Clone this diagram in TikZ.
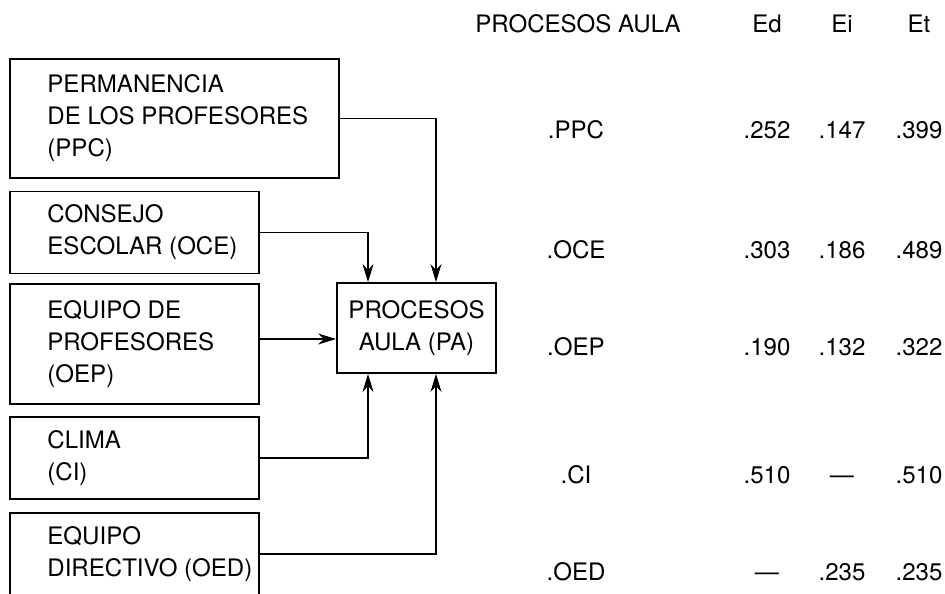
\documentclass[tikz,border=0pt]{standalone}
\usepackage{fontspec}
\setmainfont{TeX Gyre Heros}
\usetikzlibrary{arrows.meta, positioning}
\newcommand{\diagfont}{\fontsize{13.7}{18.2}\selectfont}
\tikzset{
    % Box styles
    factor/.style={
        rectangle,
        draw=black,
        line width=1.1pt,
        minimum width=4.98cm,
        minimum height=1.64cm,
        inner sep=0pt
    },
    factortext/.style={
        align=left,
        inner sep=0pt,
        font=\diagfont
    },
    outcome/.style={
        rectangle,
        draw=black,
        line width=1.1pt,
        minimum width=3.18cm,
        minimum height=1.8cm,
        align=center,
        font=\diagfont
    },
    % Table cells
    cell/.style={
        anchor=base,
        inner sep=0pt,
        font=\diagfont
    },
    % Arrow style
    arrow/.style={
        -{Stealth[length=0.36cm, width=0.22cm]},
        line width=0.8pt,
        draw=black
    }
}
\begin{document}
\begin{tikzpicture}[x=0.02cm, y=-0.02cm]
    \useasboundingbox (0,0) rectangle (945,593);

    % Factors
    \node[factor, minimum width=6.58cm, minimum height=2.38cm] (ppc) at (174.5,118.5) {};
    \node[factortext, right=0.76cm of ppc.west] (ppc-t) {PERMANENCIA\\DE LOS PROFESORES\\(PPC)};
    \node[factor] (oce) at (134.5,232.5) {};
    \node[factortext, right=0.76cm of oce.west] (oce-t) {CONSEJO\\ESCOLAR (OCE)};
    \node[factor, minimum height=2.4cm] (oep) at (134.5,344) {};
    \node[factortext, right=0.76cm of oep.west] (oep-t) {EQUIPO DE\\PROFESORES\\(OEP)};
    \node[factor] (ci) at (134.5,458) {};
    \node[factortext, right=0.76cm of ci.west] (ci-t) {CLIMA\\(CI)};
    \node[factor] (oed) at (134.5,554) {};
    \node[factortext, right=0.76cm of oed.west] (oed-t) {EQUIPO\\DIRECTIVO (OED)};

    % Outcome
    \node[outcome] (pa) at (416.5,328) {PROCESOS\\AULA (PA)};

    % Paths
    \draw[arrow] (ppc.east) -| ([xshift=0.39cm]pa.north);
    \draw[arrow] (oce.east) -| ([xshift=-0.97cm]pa.north);
    \draw[arrow] ([yshift=0.1cm]oep.east) -- ([yshift=0.1cm]oep.east -| pa.west);
    \draw[arrow] (ci.east) -| ([xshift=-0.97cm]pa.south);
    \draw[arrow] (oed.east) -| ([xshift=0.39cm]pa.south);

    % Effects table
    \node[cell] (hdr) at (578,32) {PROCESOS AULA};
    \node[cell] (hdr-ed) at (767,32) {Ed};
    \node[cell] (hdr-ei) at (842,32) {Ei};
    \node[cell] (hdr-et) at (919,32) {Et};
    \foreach \lab/\ed/\ei/\et/\yb in {PPC/.252/.147/.399/138,
        OCE/.303/.186/.489/258,
        OEP/.190/.132/.322/355,
        CI/.510/\textemdash/.510/483,
        OED/\textemdash/.235/.235/580}
    {
        \node[cell] (lab-\lab) at (576,\yb) {.\lab};
        \node[cell] (ed-\lab) at (767,\yb) {\ed};
        \node[cell] (ei-\lab) at (842,\yb) {\ei};
        \node[cell] (et-\lab) at (919,\yb) {\et};
    }
\end{tikzpicture}
\end{document}
